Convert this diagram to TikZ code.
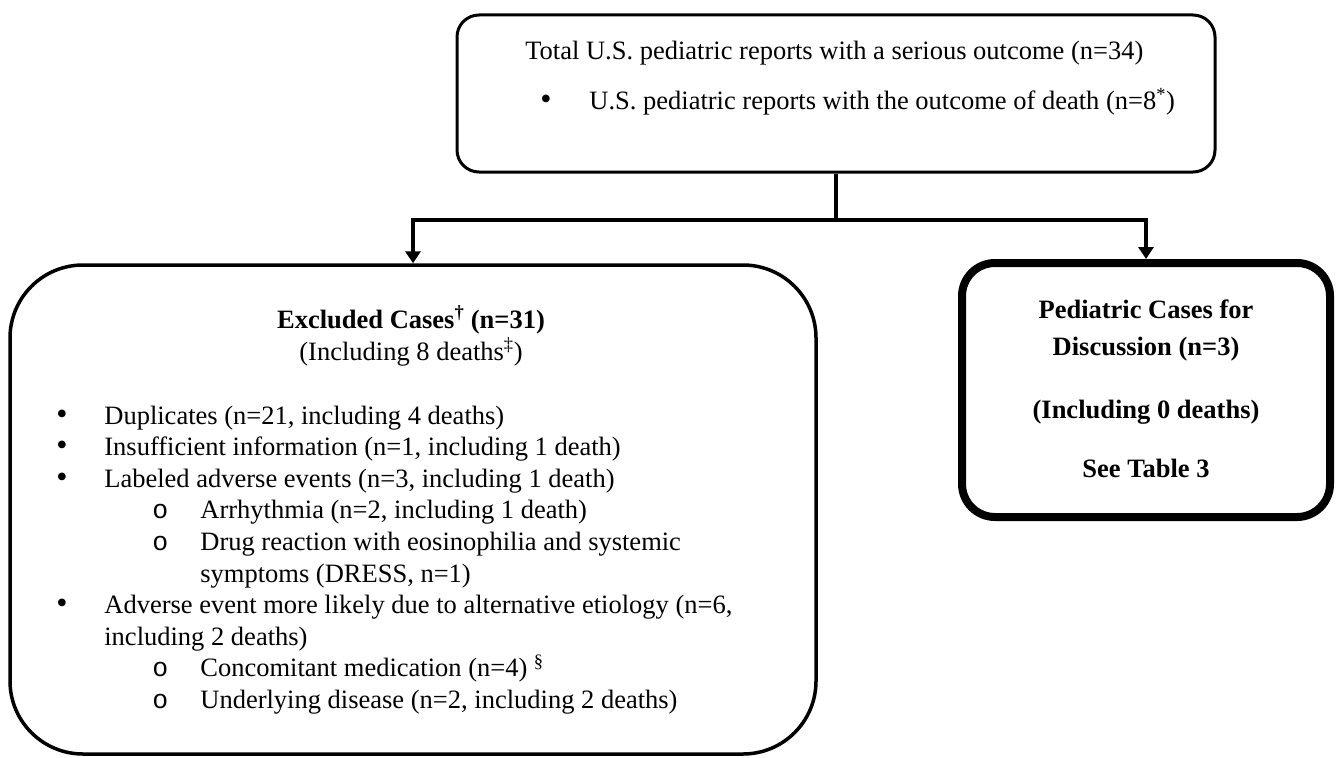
\documentclass[tikz,border=0pt]{standalone}
\usepackage{fontspec}
\setmainfont{Liberation Serif}
\newfontfamily\subfont{Liberation Mono}
\usetikzlibrary{arrows.meta}

\tikzset{every picture/.style={line width=0.75pt}}
\tikzset{
  roundbox/.style={draw, inner sep=0pt, rounded corners=#1},
  flowline/.style={line width=4pt, line join=miter},
  flowarrow/.style={flowline, -{Triangle[length=12pt,width=15pt]}},
  txt/.style={inner sep=0pt, font=\fontsize{26.5}{31}\selectfont},
  txtl/.style={txt, anchor=base west},
  txtc/.style={txt, anchor=base},
  dotmark/.style={inner sep=0pt, anchor=base west, font=\fontsize{32}{31}\selectfont},
}

\begin{document}
\begin{tikzpicture}[x=1pt,y=1pt,yscale=-1,xscale=1]
\useasboundingbox (0,0) rectangle (1337,757);

%Rounded Rect: all reports
\node [roundbox=22pt, line width=3pt, minimum width=758pt, minimum height=157pt] (total) at (836,93.5) {};
%Rounded Rect: excluded
\node [roundbox=73pt, line width=3.5pt, minimum width=806pt, minimum height=489pt] (excl) at (413,509.5) {};
%Rounded Rect: kept for discussion
\node [roundbox=33pt, line width=8pt, minimum width=368pt, minimum height=254pt] (disc) at (1146,390) {};

%Connectors
\draw [flowline] (total.south) -- ++(0,46) coordinate (split);
\draw [flowarrow] (split) -| (excl.north);
\draw [flowarrow] (split) -| (disc.north);

% Text Node
\node [txtl] (totline) at (525,60) {Total U.S. pediatric reports with a serious outcome (n=34)};
% Text Node
\node [dotmark] (deathdot) at (540,110) {•};
\node [txtl] (deathline) at (589,110) {U.S. pediatric reports with the outcome of death (n=8\textsuperscript{*})};

% Text Node
\node [txtc] (exhead) at (411,328) {\textbf{Excluded Cases\textsuperscript{†} (n=31)}};
\node [txtc] (exdeaths) at (411,360) {(Including 8 deaths\textsuperscript{‡})};

% Text Node
\node [dotmark] (b1) at (56,424) {•};
\node [txtl] (dup) at (104,424) {Duplicates (n=21, including 4 deaths)};
\node [dotmark] (b2) at (56,455.6) {•};
\node [txtl] (insuf) at (104,455.6) {Insufficient information (n=1, including 1 death)};
\node [dotmark] (b3) at (56,487.2) {•};
\node [txtl] (label) at (104,487.2) {Labeled adverse events (n=3, including 1 death)};
\node [txtl] (s1) at (152,518.8) {\subfont o};
\node [txtl] (arrh) at (200,518.8) {Arrhythmia (n=2, including 1 death)};
\node [txtl] (s2) at (152,550.4) {\subfont o};
\node [txtl] (dress) at (200,550.4) {Drug reaction with eosinophilia and systemic};
\node [txtl] (dress2) at (200,582) {symptoms (DRESS, n=1)};
\node [dotmark] (b4) at (56,613.6) {•};
\node [txtl] (alt) at (104,613.6) {Adverse event more likely due to alternative etiology (n=6,};
\node [txtl] (alt2) at (104,645.2) {including 2 deaths)};
\node [txtl] (s3) at (152,676.8) {\subfont o};
\node [txtl] (conc) at (200,676.8) {Concomitant medication (n=4) \textsuperscript{§}};
\node [txtl] (s4) at (152,708.4) {\subfont o};
\node [txtl] (under) at (200,708.4) {Underlying disease (n=2, including 2 deaths)};

% Text Node
\node [txtc] (disc1) at (1146,318) {\textbf{Pediatric Cases for}};
\node [txtc] (disc2) at (1146,355) {\textbf{Discussion (n=3)}};
\node [txtc] (disc3) at (1146,418) {\textbf{(Including 0 deaths)}};
\node [txtc] (disc4) at (1146,477) {\textbf{See Table 3}};

\end{tikzpicture}
\end{document}
